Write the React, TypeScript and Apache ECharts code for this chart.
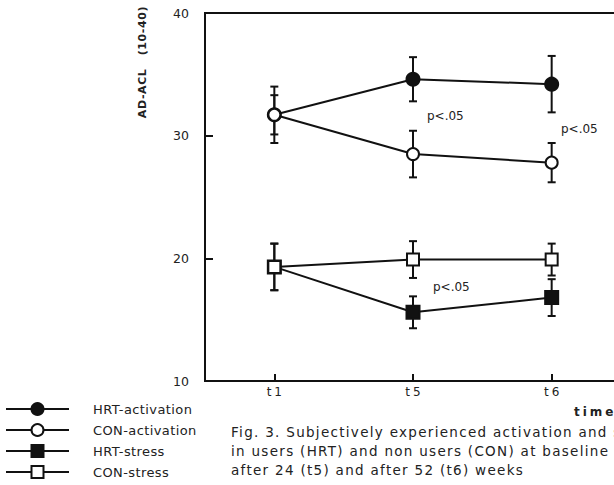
import React, { useEffect, useRef } from 'react';
import * as echarts from 'echarts';

const categories = ['t1', 't5', 't6'];
const seriesNames = ['HRT-activation', 'CON-activation', 'HRT-stress', 'CON-stress'];
const hrtActivation = [31.7, 34.6, 34.2];
const hrtActivationErr = [1.6, 1.8, 2.3];
const conActivation = [31.7, 28.5, 27.8];
const conActivationErr = [2.3, 1.9, 1.6];
const hrtStress = [19.3, 15.6, 16.8];
const hrtStressErr = [1.9, 1.3, 1.5];
const conStress = [19.3, 19.9, 19.9];
const conStressErr = [1.9, 1.5, 1.3];
const yMin = 10;
const yMax = 40;
const yStep = 10;
const yTitle = 'AD-ACL   (10-40)';
const xTitle = 'time';
const annotations = ['p<.05', 'p<.05', 'p<.05'];
const captionLines = [
  'Fig. 3. Subjectively experienced activation and stress',
  'in users (HRT) and non users (CON) at baseline',
  'after 24 (t5) and after 52 (t6) weeks',
];

const INK = '#111';
const FONT = '"DejaVu Sans", "Liberation Sans", Arial, sans-serif';

function errData(vals: number[], errs: number[]) {
  return vals.map((v, i) => [i, v - errs[i], v + errs[i]]);
}

export default function App() {
  const ref = useRef<HTMLDivElement>(null);
  useEffect(() => {
    if (!ref.current) return;
    const el = ref.current;
    const chart = echarts.init(el, undefined, { renderer: 'svg' });

    const renderErr = (params: any, api: any) => {
      const x = api.value(0);
      const lo = api.coord([x, api.value(1)]);
      const hi = api.coord([x, api.value(2)]);
      const w = 4;
      const st = { stroke: INK, lineWidth: 2 };
      return {
        type: 'group',
        children: [
          { type: 'line', shape: { x1: hi[0], y1: hi[1], x2: lo[0], y2: lo[1] }, style: st },
          { type: 'line', shape: { x1: hi[0] - w, y1: hi[1], x2: hi[0] + w, y2: hi[1] }, style: st },
          { type: 'line', shape: { x1: lo[0] - w, y1: lo[1], x2: lo[0] + w, y2: lo[1] }, style: st },
        ],
      };
    };

    const lineSeries = (name: string, data: number[], symbol: string, size: number) => ({
      name,
      type: 'line',
      data,
      symbol,
      symbolSize: size,
      showAllSymbol: true,
      lineStyle: { color: INK, width: 2 },
      itemStyle: { color: INK, borderColor: INK, borderWidth: 2 },
      z: 5,
    });
    const errSeries = (vals: number[], errs: number[]) => ({
      type: 'custom',
      renderItem: renderErr,
      data: errData(vals, errs),
      encode: { x: 0, y: [1, 2] },
      z: 3,
      silent: true,
    });

    const spacing: Record<string, string> = {};
    captionLines.forEach((t) => (spacing[t] = '1.3px'));
    seriesNames.forEach((t) => (spacing[t] = '0.4px'));
    spacing[xTitle] = '3px';
    spacing[yTitle] = '0.6px';

    const applySpacing = () => {
      el.querySelectorAll('text').forEach((t) => {
        const key = (t.textContent || '').trim();
        const s = spacing[key];
        if (s) {
          t.setAttribute('letter-spacing', s);
          (t as any).style.letterSpacing = s;
        }
      });
    };
    chart.on('finished', applySpacing);
    chart.on('rendered', applySpacing);

    chart.setOption({
      animation: false,
      backgroundColor: '#fff',
      grid: {
        left: 205,
        top: 13,
        right: 0,
        bottom: 104,
        show: true,
        borderColor: INK,
        borderWidth: 2,
        backgroundColor: 'transparent',
      },
      xAxis: {
        type: 'category',
        data: categories,
        boundaryGap: true,
        axisLine: { lineStyle: { color: INK, width: 2 } },
        axisTick: { show: true, inside: true, alignWithLabel: true, length: 7, lineStyle: { color: INK, width: 2 } },
        axisLabel: {
          color: '#222',
          fontFamily: FONT,
          margin: 5,
          formatter: (v: string) => `{a|${v.charAt(0)}}{b|${v.slice(1)}}`,
          rich: {
            a: { fontSize: 12, fontFamily: FONT, color: '#222', padding: [0, 3, 0, 0] },
            b: { fontSize: 12, fontFamily: FONT, color: '#222' },
          },
        },
        splitLine: { show: false },
      },
      yAxis: {
        type: 'value',
        min: yMin,
        max: yMax,
        interval: yStep,
        axisLine: { show: true, lineStyle: { color: INK, width: 2 } },
        axisTick: { show: true, inside: true, length: 8, lineStyle: { color: INK, width: 2 } },
        axisLabel: { color: '#222', fontSize: 12.5, fontFamily: FONT, margin: 16 },
        splitLine: { show: false },
      },
      legend: {
        orient: 'vertical',
        left: 5,
        top: 402,
        padding: 0,
        itemWidth: 63,
        itemHeight: 15,
        itemGap: 7,
        data: seriesNames,
        textStyle: { color: '#222', fontSize: 13, fontFamily: FONT, padding: [0, 0, 0, 19] },
        selectedMode: false,
      },
      series: [
        errSeries(hrtActivation, hrtActivationErr),
        errSeries(conActivation, conActivationErr),
        errSeries(hrtStress, hrtStressErr),
        errSeries(conStress, conStressErr),
        lineSeries(seriesNames[0], hrtActivation, 'circle', 13),
        lineSeries(seriesNames[1], conActivation, 'emptyCircle', 12),
        lineSeries(seriesNames[2], hrtStress, 'rect', 13),
        lineSeries(seriesNames[3], conStress, 'emptyRect', 12),
      ],
      graphic: [
        {
          type: 'text',
          x: 142,
          y: 62,
          rotation: Math.PI / 2,
          style: { text: yTitle, font: `bold 11px ${FONT}`, fill: '#222', align: 'center', verticalAlign: 'middle' },
        },
        { type: 'text', x: 427, y: 116, style: { text: annotations[0], font: `12px ${FONT}`, fill: '#222', verticalAlign: 'middle' } },
        { type: 'text', x: 561, y: 129, style: { text: annotations[1], font: `12px ${FONT}`, fill: '#222', verticalAlign: 'middle' } },
        { type: 'text', x: 433, y: 287, style: { text: annotations[2], font: `12px ${FONT}`, fill: '#222', verticalAlign: 'middle' } },
        { type: 'text', x: 574, y: 412, style: { text: xTitle, font: `bold 12px ${FONT}`, fill: '#222', verticalAlign: 'middle' } },
        ...captionLines.map((t, i) => ({
          type: 'text',
          x: 231,
          y: 432 + i * 19,
          style: { text: t, font: `13.5px ${FONT}`, fill: '#222', verticalAlign: 'middle' },
        })),
      ],
    });
    applySpacing();
    const timer = setTimeout(applySpacing, 0);
    return () => {
      clearTimeout(timer);
      chart.dispose();
    };
  }, []);
  return <div ref={ref} style={{ position: 'fixed', left: 0, top: 0, width: 621, height: 485 }} />;
}
